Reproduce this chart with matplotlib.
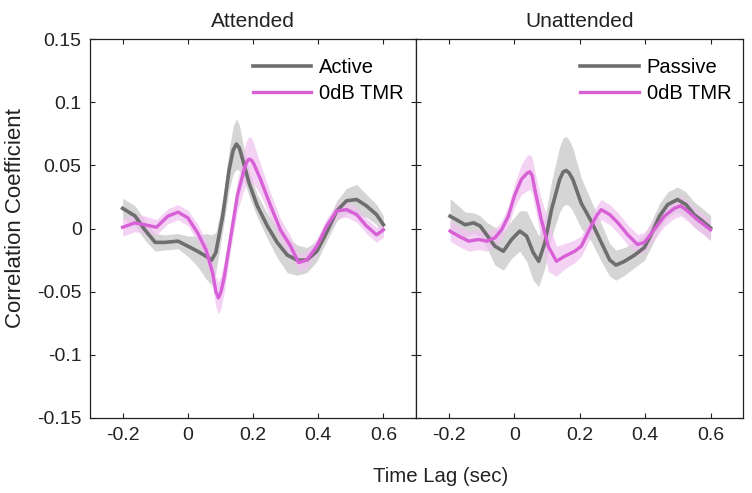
import matplotlib
matplotlib.use("Agg")
import matplotlib.pyplot as plt
import numpy as np

plt.rcParams['font.family'] = ['Liberation Sans', 'DejaVu Sans']

# ---- Attended panel ----
att_active_t = [-0.2, -0.162, -0.132, -0.10, -0.071, -0.03, 0.0, 0.03, 0.056, 0.073, 0.086,
                0.107, 0.127, 0.139, 0.149, 0.158, 0.168, 0.188, 0.213, 0.244, 0.274, 0.305, 0.335, 0.365,
                0.396, 0.426, 0.457, 0.487, 0.518, 0.548, 0.579, 0.6]
att_active_v = [0.016, 0.010, -0.001, -0.011, -0.011, -0.010, -0.014, -0.018, -0.022, -0.025, -0.019,
                0.010, 0.047, 0.062, 0.067, 0.064, 0.055, 0.036, 0.018, 0.002, -0.011, -0.021, -0.025, -0.025,
                -0.018, -0.003, 0.014, 0.022, 0.023, 0.018, 0.011, 0.003]
att_active_e = [0.008, 0.008, 0.008, 0.007, 0.006, 0.006, 0.008, 0.012, 0.018, 0.02, 0.016,
                0.012, 0.016, 0.019, 0.02, 0.018, 0.014, 0.01, 0.009, 0.01, 0.012, 0.014, 0.012, 0.01,
                0.008, 0.007, 0.008, 0.01, 0.012, 0.009, 0.008, 0.007]

att_tmr_t = [-0.2, -0.162, -0.132, -0.096, -0.061, -0.03, 0.0, 0.03, 0.056, 0.076, 0.086, 0.094, 0.102, 0.112,
             0.132, 0.152, 0.173, 0.181, 0.188, 0.196, 0.203, 0.223, 0.254, 0.284, 0.315, 0.34, 0.365, 0.396,
             0.426, 0.457, 0.487, 0.518, 0.548, 0.579, 0.6]
att_tmr_v = [0.001, 0.0045, 0.003, 0.001, 0.0098, 0.013, 0.0085, -0.0034, -0.017, -0.035, -0.050, -0.055, -0.050, -0.038,
             -0.006, 0.026, 0.047, 0.053, 0.055, 0.054, 0.051, 0.039, 0.018, -0.001, -0.014, -0.027, -0.025, -0.014,
             0.002, 0.014, 0.015, 0.011, 0.002, -0.005, -0.001]
att_tmr_e = [0.007, 0.007, 0.007, 0.006, 0.006, 0.006, 0.006, 0.007, 0.008, 0.01, 0.012, 0.013, 0.013, 0.012,
             0.01, 0.012, 0.016, 0.017, 0.018, 0.018, 0.016, 0.012, 0.01, 0.009, 0.008, 0.007, 0.007, 0.006,
             0.006, 0.006, 0.006, 0.006, 0.006, 0.006, 0.006]

# ---- Unattended panel ----
un_pas_t = [-0.196, -0.17, -0.15, -0.124, -0.104, -0.084, -0.059, -0.033, -0.008, 0.017, 0.038,
            0.058, 0.075, 0.094, 0.114, 0.139, 0.150, 0.159, 0.168, 0.179, 0.205, 0.235, 0.266, 0.292, 0.311,
            0.337, 0.368, 0.398, 0.418, 0.444, 0.469, 0.499, 0.525, 0.55, 0.575, 0.6]
un_pas_v = [0.0098, 0.006, 0.003, 0.0045, 0.002, -0.005, -0.014, -0.018, -0.0087, -0.002, -0.006,
            -0.019, -0.026, -0.011, 0.015, 0.039, 0.045, 0.046, 0.044, 0.039, 0.020, 0.006, -0.011, -0.025, -0.029,
            -0.026, -0.021, -0.015, -0.005, 0.0098, 0.019, 0.023, 0.019, 0.011, 0.006, 0.0005]
un_pas_e = [0.014, 0.012, 0.01, 0.008, 0.008, 0.01, 0.015, 0.015, 0.015, 0.016, 0.02,
            0.022, 0.02, 0.02, 0.022, 0.026, 0.027, 0.027, 0.026, 0.025, 0.02, 0.016, 0.015, 0.013, 0.012,
            0.011, 0.01, 0.01, 0.01, 0.01, 0.01, 0.01, 0.01, 0.01, 0.01, 0.01]

un_tmr_t = [-0.196, -0.17, -0.139, -0.109, -0.084, -0.059, -0.038, -0.018, 0.001, 0.022, 0.040, 0.048,
            0.055, 0.063, 0.083, 0.104, 0.129, 0.154, 0.185, 0.205, 0.225, 0.251, 0.266, 0.292, 0.317,
            0.347, 0.377, 0.398, 0.428, 0.459, 0.489, 0.509, 0.529, 0.560, 0.6]
un_tmr_v = [-0.002, -0.006, -0.010, -0.0087, -0.010, -0.0074, -0.0008, 0.0098, 0.026, 0.039, 0.044, 0.045,
            0.042, 0.031, 0.007, -0.014, -0.026, -0.022, -0.018, -0.014, -0.0034, 0.0098, 0.015, 0.011, 0.0045,
            -0.005, -0.0127, -0.011, -0.0008, 0.0098, 0.016, 0.018, 0.014, 0.007, -0.001]
un_tmr_e = [0.008, 0.008, 0.008, 0.008, 0.008, 0.007, 0.007, 0.008, 0.009, 0.012, 0.014, 0.014,
            0.014, 0.014, 0.016, 0.02, 0.012, 0.01, 0.009, 0.008, 0.008, 0.008, 0.008, 0.008, 0.008,
            0.008, 0.008, 0.008, 0.008, 0.008, 0.008, 0.008, 0.008, 0.008, 0.008]

titles = ["Attended", "Unattended"]
legend_labels = [["Active", "0dB TMR"], ["Passive", "0dB TMR"]]
xticks = [-0.2, 0, 0.2, 0.4, 0.6]
xticklabels = ["-0.2", "0", "0.2", "0.4", "0.6"]
yticks = [-0.15, -0.1, -0.05, 0, 0.05, 0.1, 0.15]
yticklabels = ["-0.15", "-0.1", "-0.05", "0", "0.05", "0.1", "0.15"]

gray = "#6e6e6e"
gray_band = "#c8c8c8"
mag = "#d760d7"
mag_band = "#f0c0ef"
txt = "#222222"

fig = plt.figure(figsize=(7.52, 4.93), dpi=100)
axL = fig.add_axes([0.1197, 0.1527, 0.4335, 0.7675])
axR = fig.add_axes([0.5532, 0.1527, 0.4352, 0.7675])

panels = [
    (axL, att_active_t, att_active_v, att_active_e, att_tmr_t, att_tmr_v, att_tmr_e),
    (axR, un_pas_t, un_pas_v, un_pas_e, un_tmr_t, un_tmr_v, un_tmr_e),
]

for i, (ax, gt, gv, ge, mt, mv, me) in enumerate(panels):
    gt, gv, ge = np.array(gt), np.array(gv), np.array(ge)
    mt, mv, me = np.array(mt), np.array(mv), np.array(me)
    ax.fill_between(gt, gv - ge, gv + ge, color=gray_band, alpha=0.75, lw=0)
    ax.fill_between(mt, mv - me, mv + me, color=mag_band, alpha=0.7, lw=0)
    ax.plot(gt, gv, color=gray, lw=2.6, label=legend_labels[i][0], solid_joinstyle='round')
    ax.plot(mt, mv, color=mag, lw=2.4, label=legend_labels[i][1], solid_joinstyle='round')
    ax.set_xlim(-0.3, 0.7)
    ax.set_ylim(-0.15, 0.15)
    ax.set_xticks(xticks)
    ax.set_xticklabels(xticklabels)
    ax.set_yticks(yticks)
    if i == 0:
        ax.set_yticklabels(yticklabels)
    else:
        ax.set_yticklabels([])
    ax.tick_params(direction='in', length=3.5, width=0.8, top=True, right=True,
                   labelsize=14, colors=txt, labelcolor=txt)
    ax.tick_params(axis='x', pad=7)
    ax.tick_params(axis='y', pad=6)
    for s in ax.spines.values():
        s.set_linewidth(0.9)
        s.set_color(txt)
    ax.set_title(titles[i], fontsize=15, pad=9, color=txt)
    leg = ax.legend(loc='upper right', bbox_to_anchor=(1.0, 0.982), frameon=False,
                    fontsize=14.5, handlelength=2.9,
                    borderaxespad=0.3, labelspacing=0.35, handletextpad=0.4, borderpad=0.3)

fig.text(373 / 752, 1 - 481.7 / 493, "Time Lag (sec)", ha='left', va='baseline', fontsize=14.7, color=txt)
fig.text(15.5 / 752, 1 - 218 / 493, "Correlation Coefficient", ha='center', va='center', rotation=90,
         fontsize=16, color=txt)

fig.savefig("out.png", dpi=100)
